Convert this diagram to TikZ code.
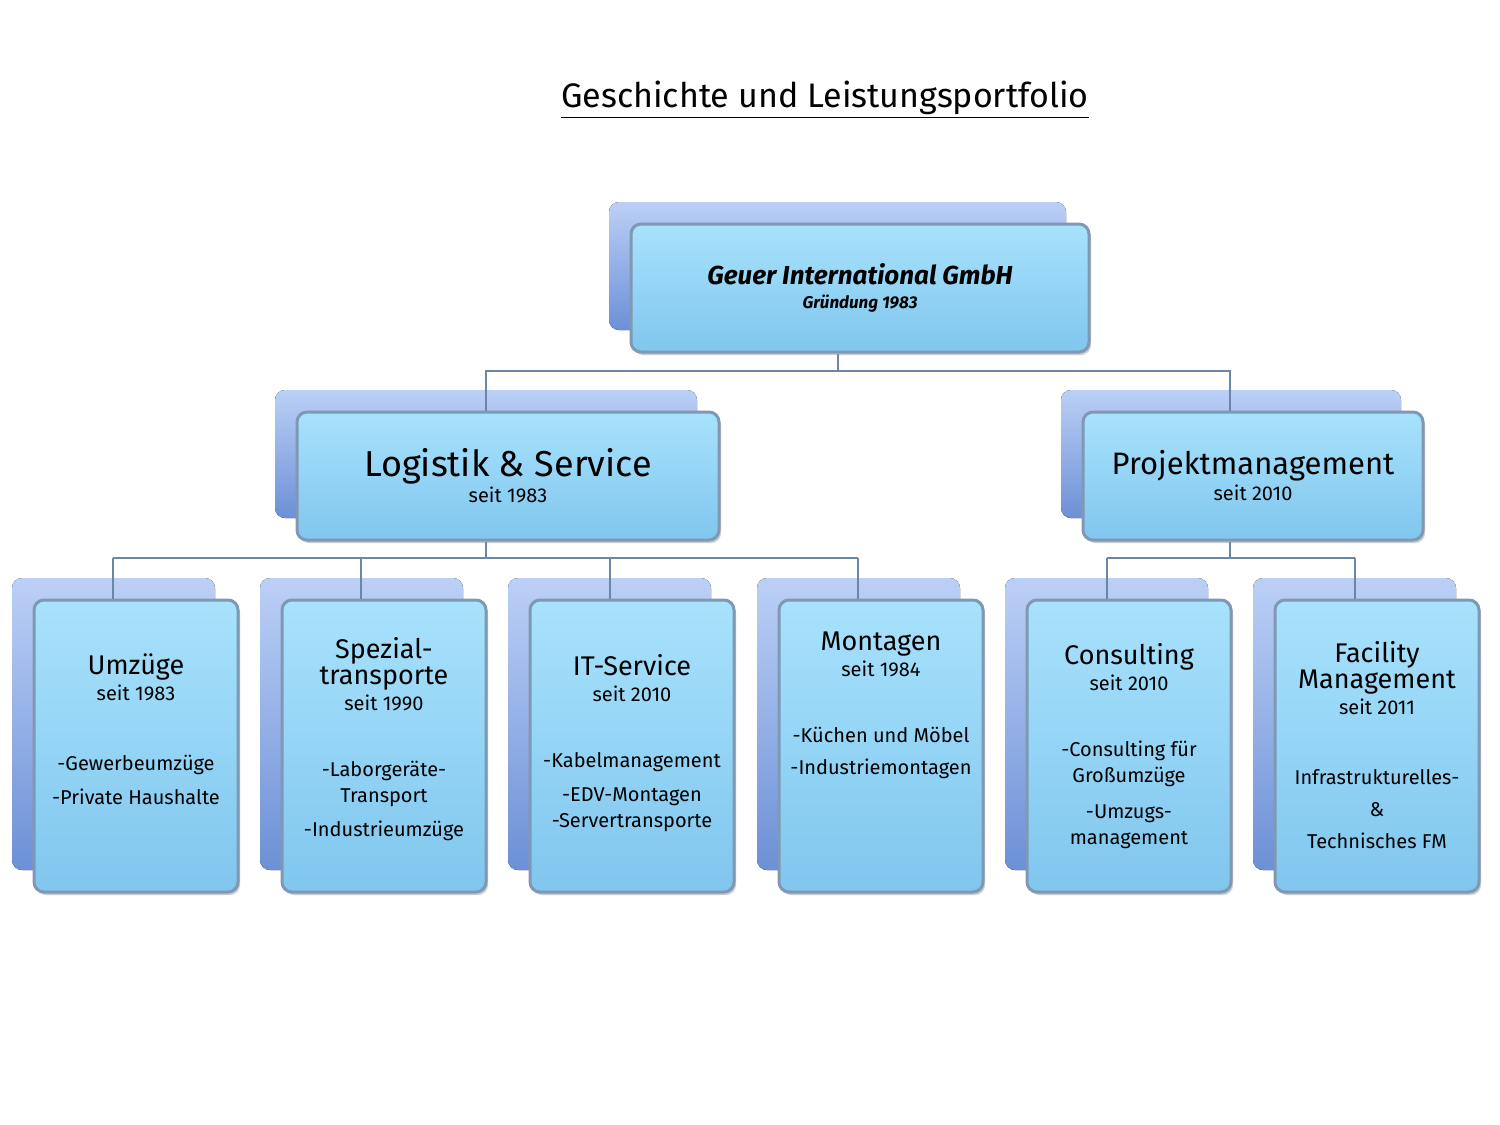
\documentclass[tikz,border=0pt]{standalone}
\usepackage{fontspec}
\setmainfont{Fira Sans}
\usetikzlibrary{shadows}
\definecolor{ftop}{HTML}{A8E2FC}
\definecolor{fmid}{HTML}{92D4F6}
\definecolor{fbot}{HTML}{80C6EE}
\definecolor{fedge}{HTML}{7F98B4}
\definecolor{btop}{HTML}{BCD0F6}
\definecolor{bbot}{HTML}{6C90D6}
\definecolor{lnk}{HTML}{6A87A8}
\newcommand\bigf{\fontsize{13.5}{16}\selectfont}
\newcommand\smf{\fontsize{10}{13}\selectfont}
\begin{document}
\begin{tikzpicture}[x=0.5pt,y=-0.5pt,
  backbox/.style={rounded corners=5pt,draw=none,top color=btop,bottom color=bbot,inner sep=0},
  frontbox/.style={rounded corners=5pt,draw=fedge,line width=1.5pt,top color=ftop,middle color=fmid,bottom color=fbot,
    drop shadow={shadow xshift=1pt,shadow yshift=-1.5pt,opacity=0.4},inner sep=2pt,align=center},
  link/.style={draw=lnk,line width=0.8pt}]
\useasboundingbox (0,0) rectangle (1500,1125);
\fill[white] (0,0) rectangle (1500,1125);
\node[font=\fontsize{17}{20}\selectfont] (title) at (825,100) {\underline{Geschichte und Leistungsportfolio}};
% top
\fill[backbox] (609,202) rectangle (1066,330);
\node[frontbox,minimum width=229pt,minimum height=64pt] (top) at (860,288) {\fontsize{13}{15}\selectfont\bfseries\itshape Geuer International GmbH\\\fontsize{8.5}{10}\selectfont\bfseries\itshape Gründung 1983};
% level 2
\fill[backbox] (275,390) rectangle (697,518);
\node[frontbox,minimum width=211pt,minimum height=64pt] (log) at (508,476) {\fontsize{18}{20}\selectfont Logistik \& Service\\[1pt]\smf seit 1983};
\fill[backbox] (1061,390) rectangle (1401,518);
\node[frontbox,minimum width=170pt,minimum height=64pt] (pm) at (1253,476) {\fontsize{15.5}{18}\selectfont Projektmanagement\\[1pt]\smf seit 2010};
% level 3
\foreach \bx in {12,260,508,757,1005,1253}{\fill[backbox] (\bx,578) rectangle (\bx+203,870);}
\tikzset{leaf/.style={frontbox,minimum width=102pt,minimum height=146pt,font=\smf}}
\node[leaf] (u) at (136,746) {\bigf Umzüge\\\smf seit 1983\\[22pt]-Gewerbeumzüge\\[4pt]-Private Haushalte\\[4pt]};
\node[leaf] (s) at (384,746) {\bigf Spezial-\\\bigf transporte\\\smf seit 1990\\[20pt]-Laborgeräte-\\Transport\\[4pt]-Industrieumzüge\\[-4pt]};
\node[leaf] (it) at (632,746) {\bigf IT-Service\\\smf seit 2010\\[20pt]-Kabelmanagement\\[4pt]-EDV-Montagen\\-Servertransporte\\[-8pt]};
\node[leaf] (m) at (881,746) {\bigf Montagen\\\smf seit 1984\\[20pt]-Küchen und Möbel\\[3pt]-Industriemontagen\\[30pt]};
\node[leaf] (c) at (1129,746) {\bigf Consulting\\\smf seit 2010\\[20pt]-Consulting für\\Großumzüge\\[5pt]-Umzugs-\\management};
\node[leaf] (f) at (1377,746) {\bigf Facility\\\bigf Management\\\smf seit 2011\\[22pt]Infrastrukturelles-\\[3pt]\&\\[3pt]Technisches FM\\[-12pt]};
% connectors
\coordinate (j1) at (838,371);
\draw[link] (top.south -| j1) -- (j1);
\draw[link] (log.north -| 486,0) -- (486,371) -- (1230,371) -- (pm.north -| 1230,0);
\draw[link] (log.south -| 486,0) -- (486,558);
\draw[link] (113,558) -- (858,558);
\foreach \n/\xx in {u/113,s/361,it/610,m/858}{\draw[link] (\xx,558) -- (\n.north -| \xx,0);}
\draw[link] (pm.south -| 1230,0) -- (1230,558);
\draw[link] (1107,558) -- (1355,558);
\foreach \n/\xx in {c/1107,f/1355}{\draw[link] (\xx,558) -- (\n.north -| \xx,0);}
\end{tikzpicture}
\end{document}
